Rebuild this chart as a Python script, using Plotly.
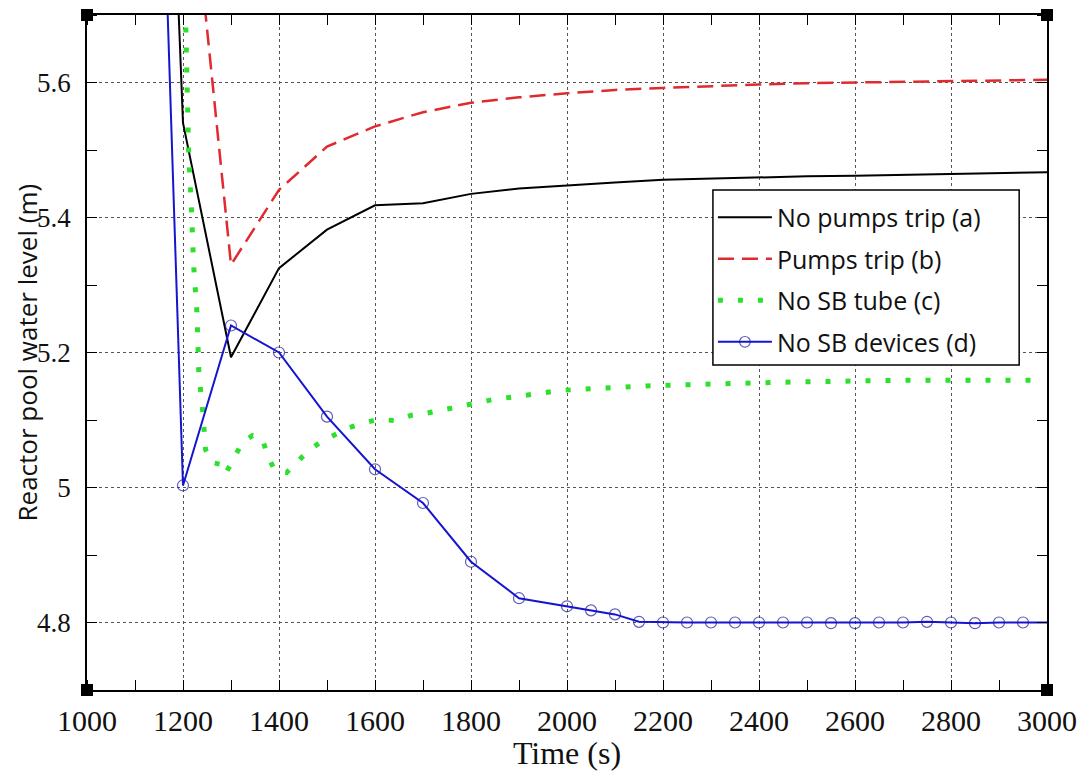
import plotly.graph_objects as go

# ---------------- data ----------------
x_ticks = [1000, 1200, 1400, 1600, 1800, 2000, 2200, 2400, 2600, 2800, 3000]
y_ticks = [4.8, 5.0, 5.2, 5.4, 5.6]

names = ["No pumps trip (a)", "Pumps trip (b)", "No SB tube (c)", "No SB devices (d)"]
x_title = "Time (s)"
y_title = "Reactor pool water level (m)"

x_a = [1180, 1200, 1300, 1400, 1500, 1600, 1700, 1800, 1900, 2000,
       2100, 2200, 2300, 2400, 2500, 2600, 2700, 2800, 2900, 3000]
y_a = [5.90, 5.54, 5.193, 5.325, 5.382, 5.418, 5.421, 5.435, 5.443, 5.448,
       5.452, 5.456, 5.458, 5.460, 5.461, 5.462, 5.463, 5.464, 5.465, 5.467]

x_b = [1230, 1300, 1400, 1500, 1600, 1700, 1800, 1900, 2000, 2100,
       2200, 2300, 2400, 2500, 2600, 2700, 2800, 2900, 3000]
y_b = [5.82, 5.33, 5.441, 5.505, 5.535, 5.556, 5.570, 5.578, 5.584, 5.589,
       5.592, 5.595, 5.597, 5.599, 5.600, 5.601, 5.602, 5.603, 5.604]

x_c = [1202, 1208, 1212, 1218, 1222, 1229, 1233, 1241, 1247,
       1260, 1281, 1289, 1306, 1324, 1345, 1364, 1376, 1391, 1416,
       1437, 1459, 1486, 1518, 1547, 1578, 1609, 1642, 1676, 1707,
       1770, 1844, 1990, 2185, 2447, 2705, 2970]
y_c = [5.80, 5.579, 5.49, 5.407, 5.33, 5.26, 5.17, 5.113, 5.056,
       5.037, 5.034, 5.021, 5.043, 5.067, 5.077, 5.074, 5.049, 5.025, 5.022,
       5.037, 5.053, 5.067, 5.079, 5.089, 5.096, 5.101, 5.099, 5.107, 5.110,
       5.120, 5.130, 5.144, 5.151, 5.156, 5.159, 5.159]

x_d = [1100, 1200, 1300, 1400, 1500, 1600, 1700, 1800, 1900, 2000,
       2050, 2100, 2150, 2200, 2250, 2300, 2350, 2400, 2450, 2500,
       2550, 2600, 2650, 2700, 2750, 2800, 2850, 2900, 2950, 3000]
y_d = [7.19, 5.003, 5.240, 5.200, 5.105, 5.027, 4.977, 4.890, 4.836, 4.824,
       4.818, 4.812, 4.801, 4.800, 4.800, 4.800, 4.800, 4.800, 4.800, 4.800,
       4.799, 4.799, 4.800, 4.800, 4.801, 4.800, 4.799, 4.800, 4.800, 4.800]

# ---------------- figure ----------------
fig = go.Figure()

fig.add_trace(go.Scatter(x=x_a, y=y_a, mode="lines", name=names[0], legendgroup="a",
                         line=dict(color="black", width=2)))
fig.add_trace(go.Scatter(x=x_b, y=y_b, mode="lines", name=names[1], legendgroup="b",
                         line=dict(color="#e02a2f", width=2.5, dash="16px,8px")))
fig.add_trace(go.Scatter(x=x_c, y=y_c, mode="lines", name=names[2], legendgroup="c",
                         line=dict(color="#2ee02e", width=5, dash="5px,15px")))
marker_sizes = [11] * (len(x_d) - 1) + [0]
fig.add_trace(go.Scatter(x=x_d, y=y_d, mode="lines+markers", name=names[3], legendgroup="d",
                         line=dict(color="#1515d0", width=2),
                         marker=dict(symbol="circle-open", size=marker_sizes,
                                     color="#1a1a9a", line=dict(width=1.2, color="#1a1a9a"))))

grid_kw = dict(showgrid=True, gridcolor="#555", gridwidth=1, griddash="dot",
               showline=True, linecolor="black", linewidth=1.5, mirror="ticks",
               ticks="", zeroline=False, automargin=False)

fig.update_xaxes(range=[1000, 3000], tickvals=x_ticks,
                 tickfont=dict(family="Liberation Serif", size=30, color="#111"),
                 minor=dict(tick0=1000, dtick=100, ticks="inside", ticklen=10,
                            tickcolor="black", tickwidth=1, showgrid=False),
                 ticklabelstandoff=3,
                 title=dict(text=x_title, font=dict(family="Liberation Serif", size=32, color="#111"),
                            standoff=12),
                 **grid_kw)
fig.update_yaxes(range=[4.7, 5.7], tickvals=y_ticks,
                 tickfont=dict(family="Liberation Serif", size=27, color="#111"),
                 minor=dict(tick0=4.7, dtick=0.1, ticks="inside", ticklen=10,
                            tickcolor="black", tickwidth=1, showgrid=False),
                 ticklabelstandoff=9,
                 **grid_kw)

# y-axis title as rotated annotation
fig.add_annotation(text=y_title, textangle=-90, xref="paper", yref="paper",
                   x=0, y=0.5, xanchor="center", yanchor="middle", xshift=-61,
                   borderpad=0, showarrow=False,
                   font=dict(family="Open Sans", size=26, color="#111"))

# black corner squares
shapes = []
for px in (0, 1):
    for py in (0, 1):
        shapes.append(dict(type="rect", xref="paper", yref="paper",
                           xsizemode="pixel", ysizemode="pixel",
                           xanchor=px, yanchor=py, x0=-6, x1=6, y0=-6, y1=6,
                           fillcolor="black", line=dict(width=0), layer="above"))
# legend frame
shapes.append(dict(type="rect", xref="paper", yref="paper",
                   x0=0.652, x1=0.971, y0=0.4815, y1=0.7407,
                   fillcolor="white", line=dict(color="black", width=1.5), layer="above"))

fig.update_layout(
    width=1078, height=763,
    margin=dict(l=79, r=39, t=7, b=81),
    plot_bgcolor="white", paper_bgcolor="white",
    shapes=shapes,
    showlegend=True,
    legend=dict(x=0.652, y=0.734, xanchor="left", yanchor="top",
                bgcolor="rgba(0,0,0,0)", borderwidth=0,
                font=dict(family="Open Sans", size=25, color="#111"),
                tracegroupgap=6, itemwidth=54, traceorder="grouped"),
)

fig.write_html("out.html")
